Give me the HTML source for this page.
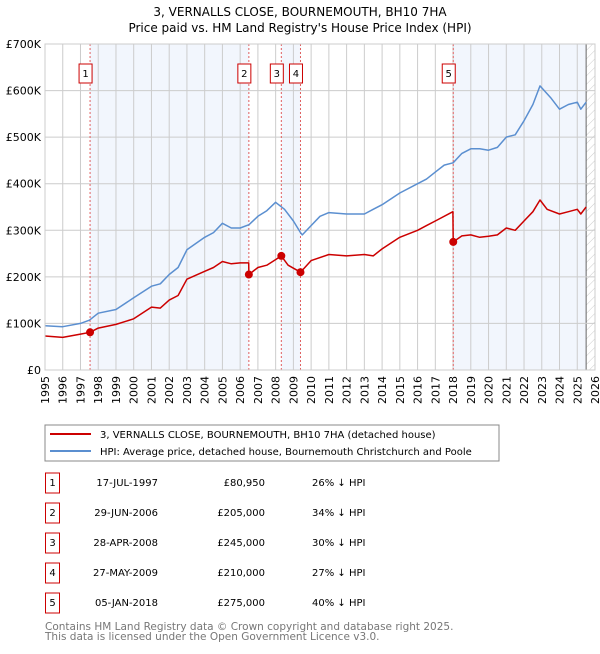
<!DOCTYPE html>
<html><head><meta charset="utf-8"><style>
body{margin:0;background:#fff;font-family:"DejaVu Sans","Liberation Sans",sans-serif;}
svg text{font-family:"DejaVu Sans","Liberation Sans",sans-serif;}
</style></head><body>
<svg id="c" width="600" height="650" xmlns="http://www.w3.org/2000/svg">
<defs><pattern id="hatch" width="6" height="6" patternUnits="userSpaceOnUse" patternTransform="rotate(45)"><line x1="0" y1="0" x2="0" y2="6" stroke="#ccc" stroke-width="1"/></pattern></defs>
<text x="300" y="16" text-anchor="middle" font-size="12">3, VERNALLS CLOSE, BOURNEMOUTH, BH10 7HA</text>
<text x="300" y="32" text-anchor="middle" font-size="12">Price paid vs. HM Land Registry's House Price Index (HPI)</text>
<g id="plot"></g>
<rect x="45" y="425" width="454" height="36" fill="#fff" stroke="#888"/>
<line x1="50" y1="434" x2="91" y2="434" stroke="#cc0000" stroke-width="2"/>
<text x="100" y="438" font-size="10">3, VERNALLS CLOSE, BOURNEMOUTH, BH10 7HA (detached house)</text>
<line x1="50" y1="451" x2="91" y2="451" stroke="#5b8fd0" stroke-width="2"/>
<text x="100" y="455" font-size="10">HPI: Average price, detached house, Bournemouth Christchurch and Poole</text>
<g id="table"></g>
<text x="45" y="630" font-size="10.5" fill="#777">Contains HM Land Registry data © Crown copyright and database right 2025.</text>
<text x="45" y="640" font-size="10.5" fill="#777">This data is licensed under the Open Government Licence v3.0.</text>
</svg>
<script>
const hpiYears=[1995,1996,1997,1997.5,1998,1999,2000,2001,2001.5,2002,2002.5,2003,2004,2004.5,2005,2005.5,2006,2006.5,2007,2007.5,2008,2008.5,2009,2009.4,2009.5,2010,2010.5,2011,2012,2013,2013.5,2014,2015,2016,2016.5,2017,2017.5,2018,2018.5,2019,2019.5,2020,2020.5,2021,2021.5,2022,2022.5,2022.9,2023.5,2024,2024.5,2025,2025.2,2025.5];
const hpiValues=[95,93,100,107,122,130,155,180,185,205,220,258,285,295,315,305,305,312,330,342,360,345,320,295,290,310,330,338,335,335,345,355,380,400,410,425,440,445,465,475,475,472,478,500,505,535,570,610,585,560,570,575,560,575];
const propYears=[1995,1996,1997,1997.54,1998,1999,2000,2001,2001.5,2002,2002.5,2003,2004,2004.5,2005,2005.5,2006,2006.48,2006.49,2007,2007.5,2008,2008.32,2008.7,2009.4,2010,2011,2012,2013,2013.5,2014,2015,2016,2016.5,2017,2017.99,2018.01,2018.5,2019,2019.5,2020,2020.5,2021,2021.5,2022,2022.5,2022.9,2023.3,2024,2024.5,2025,2025.2,2025.5];
const propValues=[73,70,77,81,90,98,110,135,133,150,160,195,212,220,233,228,230,230,205,220,225,237,245,225,210,235,248,245,248,245,260,285,300,310,320,340,275,288,290,285,287,290,305,300,320,340,365,345,335,340,345,335,350];
const saleLabels=["1","2","3","4","5"];
const saleYears=[1997.54,2006.49,2008.32,2009.4,2018.01];
const saleValues=[80.95,205,245,210,275];
const saleDates=["17-JUL-1997","29-JUN-2006","28-APR-2008","27-MAY-2009","05-JAN-2018"];
const salePrices=["£80,950","£205,000","£245,000","£210,000","£275,000"];
const salePcts=["26% ↓ HPI","34% ↓ HPI","30% ↓ HPI","27% ↓ HPI","40% ↓ HPI"];
const yTicks=[0,100,200,300,400,500,600,700];
const yTickLabels=["£0","£100K","£200K","£300K","£400K","£500K","£600K","£700K"];
const xTicks=[1995,1996,1997,1998,1999,2000,2001,2002,2003,2004,2005,2006,2007,2008,2009,2010,2011,2012,2013,2014,2015,2016,2017,2018,2019,2020,2021,2022,2023,2024,2025,2026];
const dataEnd=2025.5;

const NS="http://www.w3.org/2000/svg";
const X0=45,X1=595,Y0=370,Y1=44;
const xs=y=>X0+(y-1995)/(2026-1995)*(X1-X0);
const ys=v=>Y0-v/700*(Y0-Y1);
const plot=document.getElementById('plot');
function mk(tag,attrs,parent){const e=document.createElementNS(NS,tag);for(const k in attrs)e.setAttribute(k,attrs[k]);(parent||plot).appendChild(e);return e;}

// shaded bands
const bands=[[saleYears[0],saleYears[1]],[saleYears[2],saleYears[3]],[saleYears[4],dataEnd]];
bands.forEach((b,i)=>{const r=mk('rect',{x:xs(b[0]),y:Y1,width:xs(b[1])-xs(b[0]),height:Y0-Y1,fill:'#eef3fc',opacity:0.75});

});
const h=mk('rect',{x:xs(dataEnd),y:Y1,width:X1-xs(dataEnd),height:Y0-Y1,fill:'url(#hatch)'});


mk('line',{x1:xs(dataEnd),y1:Y1,x2:xs(dataEnd),y2:Y0,stroke:'#666','stroke-width':1});

// grid
xTicks.forEach(t=>{const l=mk('line',{x1:xs(t),y1:Y1,x2:xs(t),y2:Y0,stroke:'#ccc','stroke-width':1});


const tx=mk('text',{x:0,y:0,'font-size':11,'text-anchor':'end',transform:`translate(${xs(t)+4},${Y0+6}) rotate(-90)`});tx.textContent=t;

});
yTicks.forEach((t,i)=>{const l=mk('line',{x1:X0,y1:ys(t),x2:X1,y2:ys(t),stroke:'#ccc','stroke-width':1});


const tx=mk('text',{x:X0-4,y:ys(t)+4,'font-size':11,'text-anchor':'end'});tx.textContent=yTickLabels[i];

});

// sale vlines + badges
saleYears.forEach((y,i)=>{const l=mk('line',{x1:xs(y),y1:Y1,x2:xs(y),y2:Y0,stroke:'#e06060','stroke-width':1,'stroke-dasharray':'2,2'});


const g=mk('g',{});


mk('rect',{x:xs(y)-11,y:64,width:13,height:19,fill:'#fff',stroke:'#cc0000'},g);
const t=mk('text',{x:xs(y)-4.5,y:77,'font-size':10,'text-anchor':'middle'},g);t.textContent=saleLabels[i];});

function line(xa,va,color,name){const d=xa.map((x,i)=>(i?'L':'M')+xs(x).toFixed(1)+','+ys(va[i]).toFixed(1)).join('');
const p=mk('path',{d:d,fill:'none',stroke:color,'stroke-width':1.5,'stroke-linejoin':'round'});

}
line(hpiYears,hpiValues,'#5b8fd0','hpi-line');
line(propYears,propValues,'#cc0000','property-price-line');
saleYears.forEach((y,i)=>{const c=mk('circle',{cx:xs(y),cy:ys(saleValues[i]),r:4,fill:'#cc0000'});

});
mk('rect',{x:X0,y:Y1,width:X1-X0,height:Y0-Y1,fill:'none',stroke:'#ccc'});

// table
const tb=document.getElementById('table');
saleLabels.forEach((lab,i)=>{const cy=483+i*30;
const g=mk('g',{},tb);


mk('rect',{x:45.5,y:cy-10,width:14,height:20,fill:'#fff',stroke:'#cc0000'},g);
const a=mk('text',{x:52.5,y:cy+3,'font-size':10,'text-anchor':'middle'},g);a.textContent=lab;
const b=mk('text',{x:158,y:cy+3,'font-size':10,'text-anchor':'end'},g);b.textContent=saleDates[i];
const c=mk('text',{x:265,y:cy+3,'font-size':10,'text-anchor':'end'},g);c.textContent=salePrices[i];
const d=mk('text',{x:312,y:cy+3,'font-size':10},g);d.textContent=salePcts[i];});
</script>
</body></html>
